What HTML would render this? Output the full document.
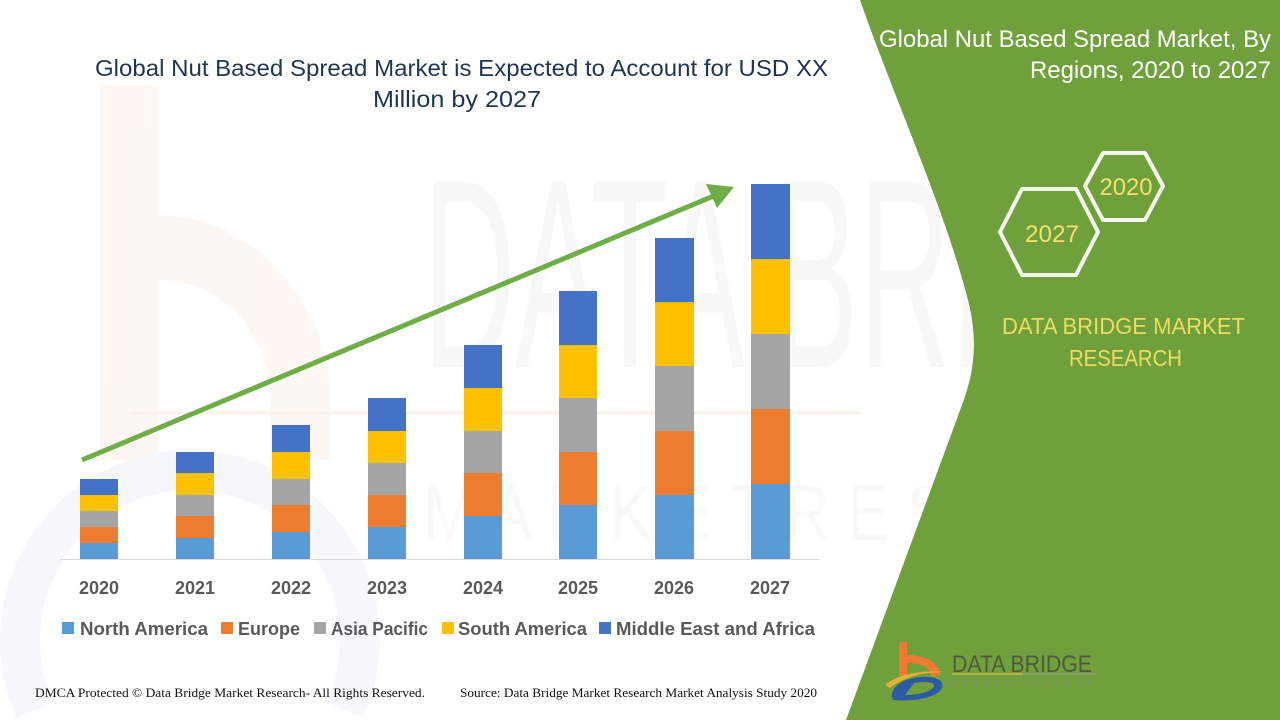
<!DOCTYPE html>
<html><head><meta charset="utf-8"><style>
html,body{margin:0;padding:0;background:#fff;width:1280px;height:720px;overflow:hidden;}
svg{display:block;}
</style></head><body>
<svg width="1280" height="720" viewBox="0 0 1280 720" xmlns="http://www.w3.org/2000/svg" overflow="hidden">
<defs><clipPath id="c"><rect width="1280" height="720"/></clipPath></defs>
<g clip-path="url(#c)">
<rect width="1280" height="720" fill="#ffffff"/>
<!-- watermark b -->
<g opacity="0.55">
<rect x="100" y="85" width="58" height="375" fill="#fdf1ea"/>
<path d="M158,215 C250,215 330,300 330,400 L330,460 L270,460 L270,400 C270,330 220,280 158,280 Z" fill="#fdf1ea"/>
<path d="M35,710 A170,170 0 1,1 345,710" fill="none" stroke="#eef2f7" stroke-width="40"/>
</g>
<!-- watermark DATA BRIDGE -->
<text x="423" y="367" transform="matrix(1,0,0,2.7,0,-623.9)" font-family="'Liberation Sans',sans-serif" font-size="100" fill="#f8f8f8" textLength="840" lengthAdjust="spacingAndGlyphs">DATA BRIDGE</text>
<line x1="130" y1="413" x2="860" y2="413" stroke="#fcf1ea" stroke-width="3"/>
<text x="423" y="540" font-family="'Liberation Sans',sans-serif" font-size="80" fill="#f9f9f9" textLength="830" lengthAdjust="spacingAndGlyphs">M A R K E T  R E S E A R C H</text>

<!-- title -->
<text x="95" y="76" font-family="'Liberation Sans',sans-serif" font-size="23" fill="#1f3553" textLength="733" lengthAdjust="spacingAndGlyphs">Global Nut Based Spread Market is Expected to Account for USD XX</text>
<text x="373" y="107" font-family="'Liberation Sans',sans-serif" font-size="23" fill="#1f3553" textLength="168" lengthAdjust="spacingAndGlyphs">Million by 2027</text>

<!-- axis -->
<line x1="60" y1="559.5" x2="820" y2="559.5" stroke="#d9d9d9" stroke-width="1"/>

<!-- bars -->
<g>
<rect x="80" y="543" width="38" height="16" fill="#5b9bd5"/>
<rect x="80" y="527" width="38" height="16" fill="#ed7d31"/>
<rect x="80" y="511" width="38" height="16" fill="#a5a5a5"/>
<rect x="80" y="495" width="38" height="16" fill="#ffc000"/>
<rect x="80" y="479" width="38" height="16" fill="#4472c4"/>
<rect x="176" y="538" width="38" height="21" fill="#5b9bd5"/>
<rect x="176" y="516" width="38" height="22" fill="#ed7d31"/>
<rect x="176" y="495" width="38" height="21" fill="#a5a5a5"/>
<rect x="176" y="473" width="38" height="22" fill="#ffc000"/>
<rect x="176" y="452" width="38" height="21" fill="#4472c4"/>
<rect x="272" y="532" width="38" height="27" fill="#5b9bd5"/>
<rect x="272" y="505" width="38" height="27" fill="#ed7d31"/>
<rect x="272" y="479" width="38" height="26" fill="#a5a5a5"/>
<rect x="272" y="452" width="38" height="27" fill="#ffc000"/>
<rect x="272" y="425" width="38" height="27" fill="#4472c4"/>
<rect x="368" y="527" width="38" height="32" fill="#5b9bd5"/>
<rect x="368" y="495" width="38" height="32" fill="#ed7d31"/>
<rect x="368" y="463" width="38" height="32" fill="#a5a5a5"/>
<rect x="368" y="431" width="38" height="32" fill="#ffc000"/>
<rect x="368" y="398" width="38" height="33" fill="#4472c4"/>
<rect x="464" y="516" width="38" height="43" fill="#5b9bd5"/>
<rect x="464" y="473" width="38" height="43" fill="#ed7d31"/>
<rect x="464" y="431" width="38" height="42" fill="#a5a5a5"/>
<rect x="464" y="388" width="38" height="43" fill="#ffc000"/>
<rect x="464" y="345" width="38" height="43" fill="#4472c4"/>
<rect x="559" y="505" width="38" height="54" fill="#5b9bd5"/>
<rect x="559" y="452" width="38" height="53" fill="#ed7d31"/>
<rect x="559" y="398" width="38" height="54" fill="#a5a5a5"/>
<rect x="559" y="345" width="38" height="53" fill="#ffc000"/>
<rect x="559" y="291" width="38" height="54" fill="#4472c4"/>
<rect x="655" y="495" width="39" height="64" fill="#5b9bd5"/>
<rect x="655" y="431" width="39" height="64" fill="#ed7d31"/>
<rect x="655" y="366" width="39" height="65" fill="#a5a5a5"/>
<rect x="655" y="302" width="39" height="64" fill="#ffc000"/>
<rect x="655" y="238" width="39" height="64" fill="#4472c4"/>
<rect x="751" y="484" width="39" height="75" fill="#5b9bd5"/>
<rect x="751" y="409" width="39" height="75" fill="#ed7d31"/>
<rect x="751" y="334" width="39" height="75" fill="#a5a5a5"/>
<rect x="751" y="259" width="39" height="75" fill="#ffc000"/>
<rect x="751" y="184" width="39" height="75" fill="#4472c4"/>
</g>

<!-- arrow -->
<line x1="82" y1="460" x2="716" y2="195" stroke="#70ad47" stroke-width="5"/>
<polygon points="734,187 706,184 717,208" fill="#70ad47"/>

<!-- year labels -->
<g font-family="'Liberation Sans',sans-serif" font-size="18" font-weight="bold" fill="#595959" text-anchor="middle">
<text x="99" y="594">2020</text>
<text x="195" y="594">2021</text>
<text x="291" y="594">2022</text>
<text x="387" y="594">2023</text>
<text x="483" y="594">2024</text>
<text x="578" y="594">2025</text>
<text x="674" y="594">2026</text>
<text x="770" y="594">2027</text>
</g>

<!-- legend -->
<g font-family="'Liberation Sans',sans-serif" font-size="18" font-weight="bold" fill="#595959">
<rect x="62" y="622" width="12" height="12" fill="#5b9bd5"/>
<text x="80" y="635" textLength="128" lengthAdjust="spacingAndGlyphs">North America</text>
<rect x="221" y="622" width="12" height="12" fill="#ed7d31"/>
<text x="238" y="635" textLength="62" lengthAdjust="spacingAndGlyphs">Europe</text>
<rect x="314" y="622" width="12" height="12" fill="#a5a5a5"/>
<text x="331" y="635" textLength="97" lengthAdjust="spacingAndGlyphs">Asia Pacific</text>
<rect x="442" y="622" width="12" height="12" fill="#ffc000"/>
<text x="458" y="635" textLength="129" lengthAdjust="spacingAndGlyphs">South America</text>
<rect x="599" y="622" width="12" height="12" fill="#4472c4"/>
<text x="616" y="635" textLength="199" lengthAdjust="spacingAndGlyphs">Middle East and Africa</text>
</g>

<!-- footer -->
<text x="35" y="697" font-family="'Liberation Serif',serif" font-size="12.5" fill="#111" textLength="390" lengthAdjust="spacingAndGlyphs">DMCA Protected © Data Bridge Market Research- All Rights Reserved.</text>
<text x="460" y="697" font-family="'Liberation Serif',serif" font-size="12.5" fill="#111" textLength="357" lengthAdjust="spacingAndGlyphs">Source: Data Bridge Market Research Market Analysis Study 2020</text>

<!-- green panel -->
<path d="M860,0 C895,100 945,210 968,300 C978,340 975,370 962,405 L846,720 L1280,720 L1280,0 Z" fill="#70a03b"/>

<!-- right title -->
<text x="879" y="47" font-family="'Liberation Sans',sans-serif" font-size="24" fill="#ffffff" textLength="392" lengthAdjust="spacingAndGlyphs">Global Nut Based Spread Market, By</text>
<text x="1030" y="78" font-family="'Liberation Sans',sans-serif" font-size="24" fill="#ffffff" textLength="241" lengthAdjust="spacingAndGlyphs">Regions, 2020 to 2027</text>

<!-- hexagons -->
<polygon points="1085,186 1103,153 1145,153 1163,186 1145,220 1103,220" fill="none" stroke="#f4f6ee" stroke-width="4" stroke-linejoin="round"/>
<polygon points="1000,232 1022,189 1076,189 1098,232 1076,275 1022,275" fill="none" stroke="#f4f6ee" stroke-width="4" stroke-linejoin="round"/>
<text x="1126" y="195" font-family="'Liberation Sans',sans-serif" font-size="24" fill="#f0e26c" text-anchor="middle" textLength="53" lengthAdjust="spacingAndGlyphs">2020</text>
<text x="1052" y="242" font-family="'Liberation Sans',sans-serif" font-size="24" fill="#f0e26c" text-anchor="middle" textLength="54" lengthAdjust="spacingAndGlyphs">2027</text>

<text x="1002" y="334" font-family="'Liberation Sans',sans-serif" font-size="23" fill="#ecdc60" textLength="243" lengthAdjust="spacingAndGlyphs">DATA BRIDGE MARKET</text>
<text x="1069" y="366" font-family="'Liberation Sans',sans-serif" font-size="23" fill="#ecdc60" textLength="113" lengthAdjust="spacingAndGlyphs">RESEARCH</text>

<!-- logo -->
<g>
<rect x="899" y="642" width="8" height="34" fill="#f07a32"/>
<path d="M907,655 C928,655 940,664 940,676 L931,676 C931,668 922,663 907,663 Z" fill="#f07a32"/>
<path d="M885,685 C900,672 930,670 945,672 C925,672 905,676 890,688 Z" fill="#e2b23a"/>
<path d="M893,700 C888,690 900,679 920,677 C935,676 945,680 942,688 C938,697 915,702 893,700 Z M905,695 C920,695 933,691 934,686 C935,682 925,681 914,683 Z" fill="#2d5aa4" fill-rule="evenodd"/>
<text x="952" y="672" font-family="'Liberation Sans',sans-serif" font-size="24" fill="#4f5a3c" textLength="140" lengthAdjust="spacingAndGlyphs">DATA BRIDGE</text>
<line x1="952" y1="674" x2="1023" y2="674" stroke="#c9b64a" stroke-width="1.5"/>
<line x1="1023" y1="674" x2="1095" y2="674" stroke="#8c9a7a" stroke-width="1.5"/>
<text x="952" y="685" font-family="'Liberation Sans',sans-serif" font-size="7" fill="#7f8f6a" textLength="140" lengthAdjust="spacing">M A R K E T   R E S E A R C H</text>
</g>
</g>
</svg>
</body></html>
